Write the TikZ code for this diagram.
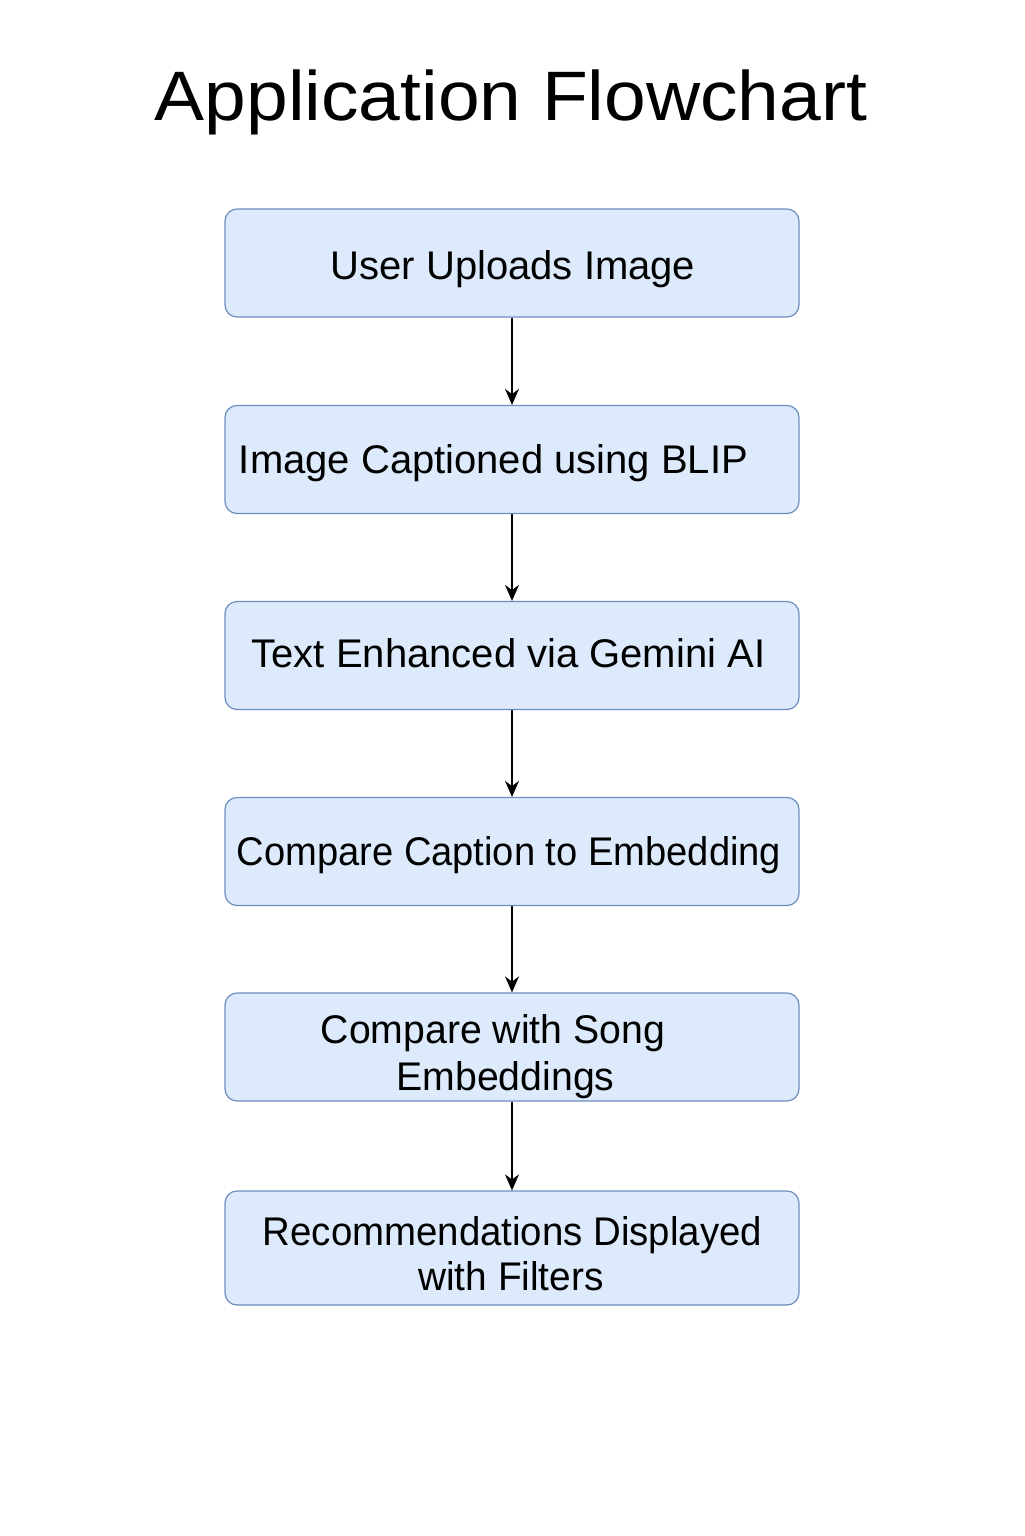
\documentclass[tikz,border=0pt]{standalone}
\usepackage{fontspec}
\setmainfont{Liberation Sans}
\usetikzlibrary{arrows.meta}
\definecolor{boxfill}{HTML}{DCEAFB}
\definecolor{boxline}{HTML}{6C8EBF}
\tikzset{
  flowbox/.style={draw=boxline, fill=boxfill, line width=0.6pt, rounded corners=6pt, minimum width=287pt, minimum height=54pt, inner sep=0pt},
  tallbox/.style={flowbox, minimum height=57pt},
  boxtext/.style={font=\fontsize{20pt}{23pt}\selectfont, anchor=base, inner sep=0pt, text=black},
  flowarrow/.style={draw=black, line width=0.75pt, -{Stealth[length=8pt,width=7pt]}}
}
\begin{document}
\begin{tikzpicture}[x=0.5pt, y=-0.5pt]
\useasboundingbox (0,0) rectangle (1024,1536);
\fill[white] (0,0) rectangle (1024,1536);
\node[font=\fontsize{35pt}{40pt}\selectfont, anchor=base, inner sep=0pt] (title) at (511,120) {\scalebox{1.071}[1]{Application Flowchart}};
\node[flowbox] (b1) at (512,263) {};
\node[flowbox] (b2) at (512,459.5) {};
\node[flowbox] (b3) at (512,655.5) {};
\node[flowbox] (b4) at (512,851.5) {};
\node[flowbox] (b5) at (512,1047) {};
\node[tallbox] (b6) at (512,1248) {};
\node[boxtext] (t1) at (513,279) {User Uploads Image};
\node[boxtext] (t2) at (493.5,473) {Image Captioned using BLIP};
\node[boxtext] (t3) at (508.5,667) {Text Enhanced via Gemini AI};
\node[boxtext] (t4) at (509,865) {\scalebox{0.953}[1]{Compare Caption to Embedding}};
\node[boxtext] (t5a) at (493,1043) {\scalebox{0.98}[1]{Compare with Song}};
\node[boxtext] (t5b) at (505.5,1090) {\scalebox{0.98}[1]{Embeddings}};
\node[boxtext] (t6a) at (512.5,1245) {\scalebox{0.96}[1]{Recommendations Displayed}};
\node[boxtext] (t6b) at (511,1290) {\scalebox{0.97}[1]{with Filters}};
\draw[flowarrow] (b1) -- (b2);
\draw[flowarrow] (b2) -- (b3);
\draw[flowarrow] (b3) -- (b4);
\draw[flowarrow] (b4) -- (b5);
\draw[flowarrow] (b5) -- (b6);
\end{tikzpicture}
\end{document}
